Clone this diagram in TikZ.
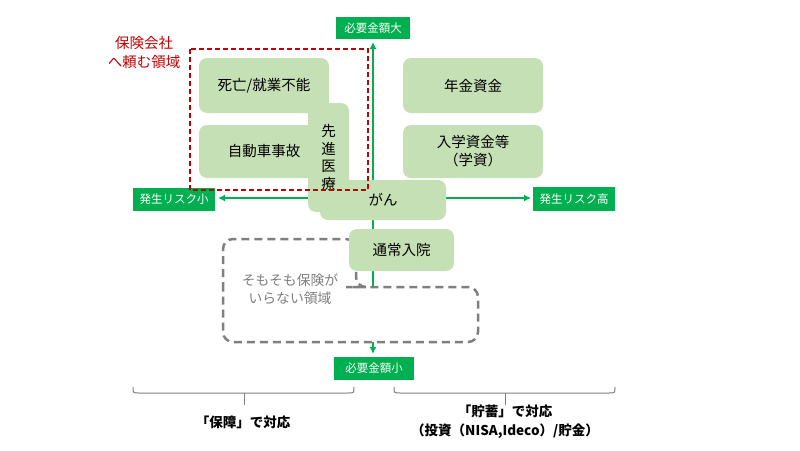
\documentclass[tikz,border=0pt]{standalone}
\usepackage{fontspec}
\setmainfont{Noto Sans CJK JP}
\usetikzlibrary{arrows.meta}
\definecolor{boxg}{HTML}{C5E0B4}
\definecolor{axg}{HTML}{00B050}
\definecolor{redd}{HTML}{C00000}
\definecolor{greyd}{HTML}{7F7F7F}
\begin{document}
\begin{tikzpicture}[x=1pt,y=-1pt,
  gbox/.style={fill=boxg, rounded corners=8pt, inner sep=0pt, text=black, align=center,
    font=\fontsize{14.5}{18}\selectfont},
  lab/.style={fill=axg, text=white, inner sep=0pt, font=\fontsize{11.5}{13}\selectfont},
  axis/.style={draw=axg, line width=2pt},
  brace/.style={draw=greyd, line width=1pt},
  btext/.style={font=\bfseries\fontsize{13.5}{19}\selectfont, align=center, text=black}]
\useasboundingbox (0,0) rectangle (800,450);

% axes
\coordinate (vt) at (373,42);
\coordinate (vb) at (373,354);
\coordinate (hl) at (218,198);
\coordinate (hr) at (531,198);
\draw[axis,{Latex[length=7pt,width=7pt]}-{Latex[length=7pt,width=7pt]}] (vb) -- (vt);
\draw[axis,{Latex[length=7pt,width=7pt]}-{Latex[length=7pt,width=7pt]}] (hl) -- (hr);

% axis labels
\node[lab, minimum width=74pt, minimum height=22pt] (top) at (373,28) {必要金額大};
\node[lab, minimum width=80pt, minimum height=23pt] (bot) at (374,368.5) {必要金額小};
\node[lab, minimum width=82pt, minimum height=23pt] (left) at (174,199) {発生リスク小};
\node[lab, minimum width=82pt, minimum height=24pt] (right) at (574,199) {発生リスク高};

% green boxes
\node[gbox, minimum width=130pt, minimum height=55pt] (shibo) at (264,85.5) {死亡/就業不能};
\node[gbox, minimum width=130pt, minimum height=53pt] (jidosha) at (264,151.5) {自動車事故};
\node[gbox, minimum width=126pt, minimum height=40pt] (gan) at (383,200) {がん};
\node[gbox, minimum width=41pt, minimum height=109pt, font=\fontsize{14.5}{17.6}\selectfont] (senshin) at (328.5,157.5) {先\\進\\医\\療};
\node[gbox, minimum width=140pt, minimum height=55pt] (nenkin) at (473,85.5) {年金資金};
\node[gbox, minimum width=140pt, minimum height=53pt] (nyugaku) at (473,151.5) {入学資金等\\（学資）};

% red dashed region
\draw[draw=redd, line width=1.5pt, dash pattern=on 5pt off 3pt] (190,49) rectangle (368,190);
\node[text=redd, font=\fontsize{14.5}{19}\selectfont, align=center] (hoken) at (144,52.5) {保険会社\\へ頼む領域};

% grey dashed region
\draw[draw=greyd, fill=white, line width=2.5pt, dash pattern=on 8pt off 5pt, rounded corners=10pt]
  (223,300) -- (223,239) -- (356,239) -- (356,287) -- (356.05,287) -- (478,287) -- (478,342) -- (223,342) -- cycle;
\node[text=greyd, font=\fontsize{13.8}{18}\selectfont, align=center] (fuyou) at (290,289) {そもそも保険が\\いらない領域};

% 通常入院 on top
\node[gbox, minimum width=105pt, minimum height=42pt] (tsujo) at (401.5,250) {通常入院};

% braces
\coordinate (b1l) at (133,387);
\coordinate (b1r) at (354,387);
\coordinate (b1m) at (244,393);
\coordinate (b1t) at (244,405);
\draw[brace] (b1l) .. controls (133,393) .. (139,393) -- (348,393) .. controls (354,393) .. (b1r);
\draw[brace] (b1m) -- (b1t);
\coordinate (b2l) at (394,387);
\coordinate (b2r) at (615,387);
\coordinate (b2m) at (505,393);
\coordinate (b2t) at (505,405);
\draw[brace] (b2l) .. controls (394,393) .. (400,393) -- (609,393) .. controls (615,393) .. (b2r);
\draw[brace] (b2m) -- (b2t);

\node[btext] (hosho) at (243,422) {「保障」で対応};
\node[btext] (chochiku) at (505,421.5) {「貯蓄」で対応\\（投資（NISA,Ideco）/貯金）};
\end{tikzpicture}
\end{document}
